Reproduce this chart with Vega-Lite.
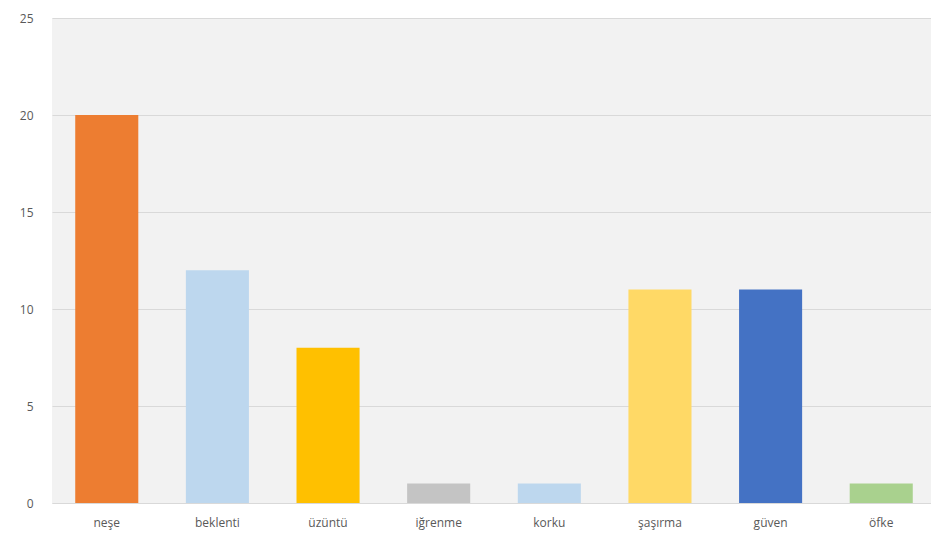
{
  "$schema": "https://vega.github.io/schema/vega-lite/v6.json",
  "autosize": {"type": "none"},
  "padding": {"left": 52, "top": 18, "right": 0, "bottom": 42},
  "width": 884,
  "height": 485,
  "background": "white",
  "config": {
    "view": {"fill": "#f2f2f2", "stroke": null},
    "font": "Open Sans"
  },
  "data": {
    "values": [
      {"emotion": "neşe", "value": 20, "color": "#ED7D31"},
      {"emotion": "beklenti", "value": 12, "color": "#BDD7EE"},
      {"emotion": "üzüntü", "value": 8, "color": "#FFC000"},
      {"emotion": "iğrenme", "value": 1, "color": "#C4C4C4"},
      {"emotion": "korku", "value": 1, "color": "#BDD7EE"},
      {"emotion": "şaşırma", "value": 11, "color": "#FFD966"},
      {"emotion": "güven", "value": 11, "color": "#4472C4"},
      {"emotion": "öfke", "value": 1, "color": "#A9D18E"}
    ]
  },
  "mark": {"type": "bar"},
  "encoding": {
    "x": {
      "field": "emotion", "type": "nominal", "sort": null,
      "scale": {"paddingInner": 0.43, "paddingOuter": 0.21},
      "axis": {"title": null, "labelAngle": 0, "ticks": false, "domain": true, "domainColor": "#d9d9d9", "labelColor": "#595959", "labelFontSize": 12, "labelPadding": 14}
    },
    "y": {
      "field": "value", "type": "quantitative",
      "scale": {"domain": [0, 25]},
      "axis": {"title": null, "values": [0, 5, 10, 15, 20, 25], "ticks": false, "domain": false, "grid": true, "gridColor": "#d9d9d9", "labelColor": "#595959", "labelFontSize": 12, "labelPadding": 19}
    },
    "color": {"field": "color", "type": "nominal", "scale": null, "legend": null}
  }
}
